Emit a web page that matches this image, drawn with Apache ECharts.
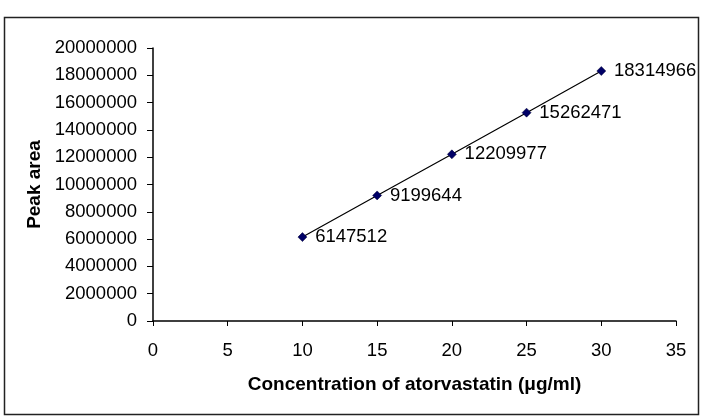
<!DOCTYPE html>
<html>
<head>
<meta charset="utf-8">
<script src="https://cdn.jsdelivr.net/npm/echarts@6/dist/echarts.min.js"></script>
<style>
  html, body { margin: 0; padding: 0; background: #fff; }
  #chart { width: 708px; height: 416px; }
</style>
</head>
<body>
<div id="chart"></div>
<script>
var concentration = [10, 15, 20, 25, 30];
var peakArea = [6147512, 9199644, 12209977, 15262471, 18314966];

var points = concentration.map(function (c, i) { return [c, peakArea[i]]; });

var chart = echarts.init(document.getElementById('chart'));
var font = 'Liberation Sans, Arial, sans-serif';

chart.setOption({
    backgroundColor: '#fff',
    animation: false,
    graphic: [{
        type: 'rect',
        shape: { x: 4.5, y: 17.5, width: 694, height: 397 },
        style: { fill: 'none', stroke: '#222', lineWidth: 1.5 },
        silent: true
    }],
    grid: { left: 153, top: 48, width: 523, height: 273 },
    xAxis: {
        type: 'value',
        min: 0,
        max: 35,
        interval: 5,
        name: 'Concentration of atorvastatin (μg/ml)',
        nameLocation: 'middle',
        nameGap: 54,
        nameTextStyle: { color: '#000', fontFamily: font, fontSize: 19, fontWeight: 'bold' },
        axisLine: { lineStyle: { color: '#000', width: 1.5 } },
        axisTick: { length: 5, lineStyle: { color: '#000' } },
        axisLabel: { color: '#000', fontFamily: font, fontSize: 18.5, margin: 20 },
        splitLine: { show: false }
    },
    yAxis: {
        type: 'value',
        min: 0,
        max: 20000000,
        interval: 2000000,
        name: 'Peak area',
        nameLocation: 'middle',
        nameGap: 108,
        nameTextStyle: { color: '#000', fontFamily: font, fontSize: 19, fontWeight: 'bold' },
        axisLine: { show: true, lineStyle: { color: '#000', width: 1.5 } },
        axisTick: { show: true, length: 6, lineStyle: { color: '#000' } },
        axisLabel: {
            color: '#000', fontFamily: font, fontSize: 18.5, margin: 16,
            formatter: function (v) { return String(v); }
        },
        splitLine: { show: false }
    },
    series: [{
        type: 'line',
        data: points,
        symbol: 'diamond',
        symbolSize: 9,
        itemStyle: { color: '#000066', borderColor: '#000033', borderWidth: 0.5 },
        lineStyle: { color: '#000', width: 1.2 },
        label: {
            show: true,
            position: 'right',
            distance: 8,
            color: '#000',
            fontFamily: font,
            fontSize: 18.5,
            formatter: function (p) { return p.value[1]; }
        }
    }]
});
</script>
</body>
</html>
